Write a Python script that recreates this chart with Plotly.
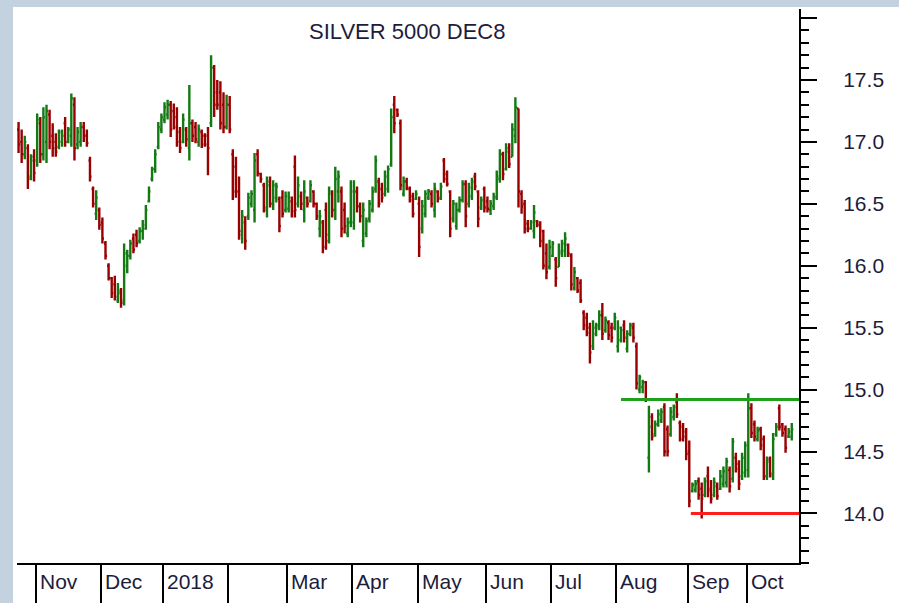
import pandas as pd
import plotly.graph_objects as go

# ---- daily OHLC bars (open, high, low, close) ----
oct17 = [(17.10,17.16,16.91,16.98),(17.00,17.10,16.83,16.90),(16.90,17.05,16.86,17.00),
         (16.95,16.98,16.62,16.70),(16.72,16.90,16.69,16.85),(16.88,16.94,16.68,16.75)]
nov17 = [(16.85,17.23,16.80,17.18),(17.15,17.20,16.83,16.90),(16.90,17.28,16.85,17.20),
         (17.00,17.30,16.83,17.25),(17.22,17.26,16.94,17.00),(17.05,17.15,16.88,16.95),
         (17.00,17.07,16.88,16.92),(16.96,17.10,16.94,17.08),(17.00,17.10,16.96,17.05),
         (17.15,17.20,16.96,17.00),(17.00,17.12,16.99,17.10),(17.05,17.39,16.96,17.35),
         (17.30,17.36,16.85,16.95),(16.98,17.12,16.94,17.08),(17.00,17.16,16.96,17.12),
         (17.12,17.16,17.00,17.05),(17.05,17.10,16.96,16.99),(16.85,16.88,16.68,16.72),
         (16.62,16.64,16.47,16.50),(16.42,16.61,16.37,16.55),(16.45,16.47,16.29,16.33)]
dec17 = [(16.35,16.39,16.18,16.22),(16.18,16.20,16.05,16.08),(16.00,16.02,15.88,15.90),
         (15.90,15.91,15.74,15.78),(15.85,15.92,15.72,15.75),(15.72,15.86,15.70,15.80),
         (15.78,15.82,15.66,15.70),(15.72,16.18,15.68,16.10),(16.00,16.13,15.94,16.08),
         (16.08,16.21,16.05,16.18),(16.22,16.26,16.10,16.13),(16.25,16.29,16.15,16.18),
         (16.20,16.31,16.18,16.28),(16.28,16.37,16.21,16.33),(16.30,16.49,16.29,16.45),
         (16.52,16.64,16.51,16.60),(16.70,16.80,16.68,16.78),(16.78,16.94,16.75,16.90),
         (16.96,17.16,16.94,17.12),(17.10,17.23,17.07,17.20)]
jan18 = [(17.18,17.32,17.15,17.28),(17.22,17.34,17.18,17.30),(17.30,17.33,17.04,17.10),
         (17.25,17.31,17.10,17.12),(17.20,17.28,16.96,17.00),(17.08,17.12,16.91,16.95),
         (17.00,17.23,16.99,17.18),(17.10,17.12,16.96,17.02),(16.95,17.46,16.85,17.15),
         (17.15,17.18,17.00,17.05),(17.12,17.16,16.99,17.02),(17.00,17.14,16.96,17.10),
         (17.08,17.10,16.95,16.98),(17.05,17.07,16.96,16.98),(17.05,17.12,16.73,16.95),
         (17.15,17.70,17.12,17.60),(17.60,17.62,17.20,17.30),(17.40,17.50,17.26,17.30),
         (17.40,17.49,17.10,17.15),(17.30,17.40,17.07,17.12),(17.12,17.38,17.10,17.30)]
feb18 = [(17.30,17.37,17.07,17.10),(16.90,16.94,16.53,16.60),(16.80,16.88,16.55,16.60),
         (16.60,16.72,16.21,16.28),(16.25,16.45,16.18,16.40),(16.35,16.40,16.13,16.20),
         (16.40,16.59,16.37,16.55),(16.50,16.61,16.47,16.58),(16.45,16.91,16.35,16.85),
         (16.90,16.94,16.72,16.75),(16.74,16.75,16.67,16.70),(16.65,16.67,16.43,16.47),
         (16.45,16.72,16.39,16.65),(16.68,16.72,16.47,16.50),(16.50,16.69,16.45,16.65),
         (16.55,16.67,16.51,16.64),(16.54,16.56,16.27,16.32),(16.55,16.61,16.39,16.42),
         (16.45,16.60,16.43,16.56)]
mar18 = [(16.46,16.60,16.43,16.55),(16.52,16.56,16.39,16.44),(16.80,16.89,16.39,16.45),
         (16.50,16.72,16.47,16.65),(16.56,16.60,16.45,16.50),(16.45,16.69,16.35,16.60),
         (16.55,16.56,16.47,16.50),(16.52,16.69,16.51,16.65),(16.60,16.61,16.47,16.50),
         (16.50,16.51,16.37,16.40),(16.30,16.45,16.23,16.40),(16.35,16.37,16.10,16.15),
         (16.45,16.51,16.13,16.20),(16.25,16.64,16.18,16.60),(16.58,16.61,16.39,16.45),
         (16.45,16.80,16.37,16.70),(16.60,16.77,16.51,16.72),(16.60,16.64,16.23,16.30),
         (16.45,16.51,16.26,16.32),(16.26,16.39,16.23,16.35),(16.35,16.69,16.31,16.60)]
apr18 = [(16.35,16.69,16.29,16.60),(16.60,16.64,16.43,16.48),(16.48,16.51,16.35,16.40),
         (16.20,16.51,16.15,16.45),(16.26,16.39,16.23,16.36),(16.38,16.53,16.35,16.50),
         (16.45,16.64,16.43,16.60),(16.62,16.89,16.59,16.85),(16.68,16.71,16.47,16.50),
         (16.62,16.67,16.51,16.55),(16.58,16.77,16.56,16.72),(16.62,16.81,16.59,16.78),
         (16.82,17.27,16.80,17.20),(17.30,17.37,17.07,17.15),(17.26,17.27,17.20,17.22),
         (17.15,17.18,16.61,16.65),(16.58,16.72,16.56,16.68),(16.68,16.71,16.61,16.63),
         (16.62,16.64,16.51,16.53),(16.56,16.59,16.39,16.42),(16.54,16.61,16.53,16.58)]
may18 = [(16.50,16.56,16.07,16.15),(16.30,16.53,16.26,16.48),(16.42,16.61,16.39,16.58),
         (16.55,16.62,16.53,16.60),(16.58,16.61,16.47,16.50),(16.45,16.67,16.39,16.62),
         (16.60,16.61,16.51,16.54),(16.55,16.67,16.53,16.64),(16.85,16.87,16.67,16.70),
         (16.74,16.77,16.64,16.66),(16.60,16.61,16.23,16.30),(16.38,16.53,16.35,16.50),
         (16.32,16.51,16.29,16.45),(16.45,16.56,16.43,16.53),(16.53,16.69,16.51,16.66),
         (16.66,16.69,16.31,16.40),(16.50,16.67,16.47,16.63),(16.56,16.71,16.53,16.68),
         (16.72,16.75,16.61,16.64),(16.60,16.61,16.31,16.38),(16.47,16.56,16.45,16.53),
         (16.62,16.64,16.43,16.47)]
jun18 = [(16.52,16.56,16.43,16.46),(16.45,16.53,16.41,16.50),(16.48,16.59,16.45,16.56),
         (16.55,16.77,16.53,16.72),(16.70,16.94,16.67,16.90),(16.90,16.92,16.69,16.74),
         (16.78,16.99,16.77,16.95),(16.92,16.99,16.79,16.82),(16.88,17.15,16.88,17.10),
         (17.05,17.36,16.99,17.28),(17.27,17.27,16.47,16.60),(16.58,16.61,16.42,16.48),
         (16.50,16.53,16.26,16.30),(16.34,16.37,16.27,16.30),(16.30,16.37,16.29,16.35),
         (16.28,16.49,16.22,16.43),(16.36,16.37,16.31,16.33),(16.35,16.36,16.15,16.20),
         (16.28,16.29,15.97,16.00),(16.10,16.18,15.89,15.95),(15.99,16.21,15.97,16.15)]
jul18 = [(16.08,16.20,16.07,16.18),(16.05,16.07,15.83,15.90),(15.99,16.18,15.99,16.12),
         (16.10,16.21,16.07,16.18),(16.12,16.27,16.07,16.22),(16.17,16.18,16.07,16.10),
         (16.08,16.10,15.80,15.85),(15.82,15.99,15.80,15.95),(15.90,15.91,15.78,15.80),
         (15.86,15.89,15.70,15.72),(15.62,15.64,15.48,15.52),(15.58,15.62,15.43,15.46),
         (15.50,15.54,15.21,15.30),(15.35,15.56,15.32,15.50),(15.45,15.54,15.43,15.52),
         (15.50,15.64,15.48,15.60),(15.60,15.70,15.40,15.45),(15.48,15.59,15.46,15.56),
         (15.54,15.56,15.40,15.44),(15.50,15.54,15.38,15.42),(15.50,15.62,15.48,15.58)]
aug18 = [(15.35,15.56,15.30,15.50),(15.40,15.51,15.38,15.48),(15.52,15.56,15.38,15.42),
         (15.33,15.48,15.30,15.45),(15.45,15.54,15.43,15.52),(15.50,15.54,15.38,15.42),
         (15.35,15.38,15.00,15.05),(15.00,15.12,14.97,15.10),(15.02,15.08,14.97,15.06),
         (15.06,15.07,14.90,14.92),(14.45,14.87,14.33,14.70),(14.78,14.81,14.59,14.62),
         (14.64,14.75,14.62,14.72),(14.72,14.84,14.70,14.80),(14.75,14.85,14.73,14.82),
         (14.86,14.89,14.46,14.50),(14.68,14.71,14.46,14.50),(14.64,14.86,14.62,14.82),
         (14.78,14.88,14.75,14.86),(14.90,14.97,14.77,14.80),(14.73,14.75,14.58,14.60),
         (14.70,14.73,14.58,14.62),(14.66,14.69,14.43,14.48)]
sep18 = [(14.50,14.59,14.05,14.10),(14.18,14.25,14.17,14.23),(14.19,14.27,14.17,14.24),
         (14.26,14.29,14.11,14.15),(14.20,14.25,13.96,14.12),(14.15,14.29,14.13,14.26),
         (14.30,14.38,14.13,14.18),(14.20,14.27,14.08,14.12),(14.15,14.29,14.13,14.25),
         (14.22,14.25,14.11,14.14),(14.20,14.35,14.19,14.30),(14.24,14.38,14.21,14.34),
         (14.25,14.45,14.21,14.42),(14.35,14.38,14.17,14.22),(14.28,14.61,14.25,14.58),
         (14.45,14.49,14.33,14.36),(14.40,14.43,14.19,14.24),(14.30,14.49,14.27,14.45),
         (14.33,14.58,14.29,14.55)]
oct18 = [(14.35,14.97,14.29,14.85),(14.85,14.89,14.61,14.65),(14.72,14.75,14.58,14.62),
         (14.60,14.70,14.58,14.67),(14.68,14.70,14.51,14.55),(14.60,14.63,14.27,14.30),
         (14.30,14.46,14.27,14.42),(14.44,14.46,14.29,14.32),(14.30,14.65,14.27,14.60),
         (14.64,14.73,14.62,14.70),(14.85,14.88,14.67,14.70),(14.72,14.73,14.62,14.65),
         (14.68,14.71,14.49,14.53),(14.62,14.69,14.61,14.66),(14.62,14.73,14.59,14.68)]

months = [oct17, nov17, dec17, jan18, feb18, mar18, apr18, may18, jun18, jul18, aug18, sep18, oct18]
bars = [b for m in months for b in m]
opens = [b[0] for b in bars]
highs = [b[1] for b in bars]
lows = [b[2] for b in bars]
closes = [b[3] for b in bars]

holidays = ["2017-11-23", "2017-12-25", "2018-01-01", "2018-01-15", "2018-02-19",
            "2018-03-30", "2018-05-28", "2018-07-04", "2018-09-03"]
days = pd.bdate_range("2017-10-24", "2018-10-19")
days = days[~days.isin(pd.to_datetime(holidays))]
dates = days + pd.Timedelta(hours=12)
assert len(dates) == len(bars), (len(dates), len(bars))

month_starts = ["2017-11-01", "2017-12-01", "2018-01-02", "2018-02-01", "2018-03-01", "2018-04-02",
                "2018-05-01", "2018-06-01", "2018-07-02", "2018-08-01", "2018-09-04", "2018-10-01"]
month_labels = ["Nov", "Dec", "2018", "", "Mar", "Apr", "May", "Jun", "Jul", "Aug", "Sep", "Oct"]

price_ticks = [14.0, 14.5, 15.0, 15.5, 16.0, 16.5, 17.0, 17.5, 18.0]
price_labels = ["14.0", "14.5", "15.0", "15.5", "16.0", "16.5", "17.0", "17.5", ""]

resistance_level, resistance_start = 14.92, "2018-08-02 12:00"
support_level, support_start = 14.0, "2018-09-05 00:00"

x_range = ["2017-10-24 00:00", "2018-10-23 20:00"]
y_range = [13.60, 18.073]

FONT = "Liberation Sans, Arial, sans-serif"
TXT = "#1c1c3c"

fig = go.Figure(go.Ohlc(
    x=dates, open=opens, high=highs, low=lows, close=closes,
    increasing=dict(line=dict(color="#137a13", width=2.4)),
    decreasing=dict(line=dict(color="#990000", width=2.4)),
    tickwidth=0.5, hoverinfo="skip", showlegend=False,
))

shapes = [
    dict(type="rect", xref="paper", yref="paper", x0=-0.0051, x1=1.13, y0=-0.08, y1=1.0036,
         fillcolor="white", line=dict(width=0), layer="below"),
    dict(type="line", xref="x", yref="y", x0=resistance_start, x1=x_range[1],
         y0=resistance_level, y1=resistance_level, line=dict(color="#1ea01e", width=3)),
    dict(type="line", xref="x", yref="y", x0=support_start, x1=x_range[1],
         y0=support_level, y1=support_level, line=dict(color="#ff1c1c", width=3)),
]

annotations = [dict(text="SILVER 5000 DEC8", xref="paper", yref="paper", x=0.4987, y=0.960,
                    xanchor="center", yanchor="middle", showarrow=False,
                    font=dict(family=FONT, size=22, color=TXT))]
for d, lab in zip(month_starts, month_labels):
    annotations.append(dict(text=lab, xref="x", yref="paper", x=d, y=-0.034, xanchor="left",
                            yanchor="middle", xshift=2, showarrow=False,
                            font=dict(family=FONT, size=21, color=TXT)))

fig.update_layout(
    width=899, height=603,
    margin=dict(l=17, r=100, t=9, b=40, autoexpand=False),
    paper_bgcolor="#c4d2e0", plot_bgcolor="white",
    shapes=shapes, annotations=annotations,
    xaxis=dict(type="date", range=x_range, rangeslider=dict(visible=False),
               rangebreaks=[dict(bounds=["sat", "mon"]), dict(values=holidays)],
               tickmode="array", tickvals=month_starts, showticklabels=False,
               ticks="outside", ticklen=40, tickwidth=2, tickcolor="black", automargin=False,
               showline=True, linewidth=2, linecolor="black", showgrid=False, zeroline=False),
    yaxis=dict(side="right", range=y_range, tickmode="array", tickvals=price_ticks,
               ticktext=price_labels, ticks="outside", ticklen=16, tickwidth=2, tickcolor="black",
               minor=dict(dtick=0.1, tick0=14.0, ticks="outside", ticklen=8, tickwidth=2,
                          tickcolor="black", showgrid=False),
               ticklabelstandoff=22, automargin=False,
               tickfont=dict(family=FONT, size=21, color=TXT),
               showline=True, linewidth=2, linecolor="black", showgrid=False, zeroline=False),
)

fig.write_html("out.html", config={"displayModeBar": False},
               post_script="document.body.style.margin='0';document.body.style.overflow='hidden';")
